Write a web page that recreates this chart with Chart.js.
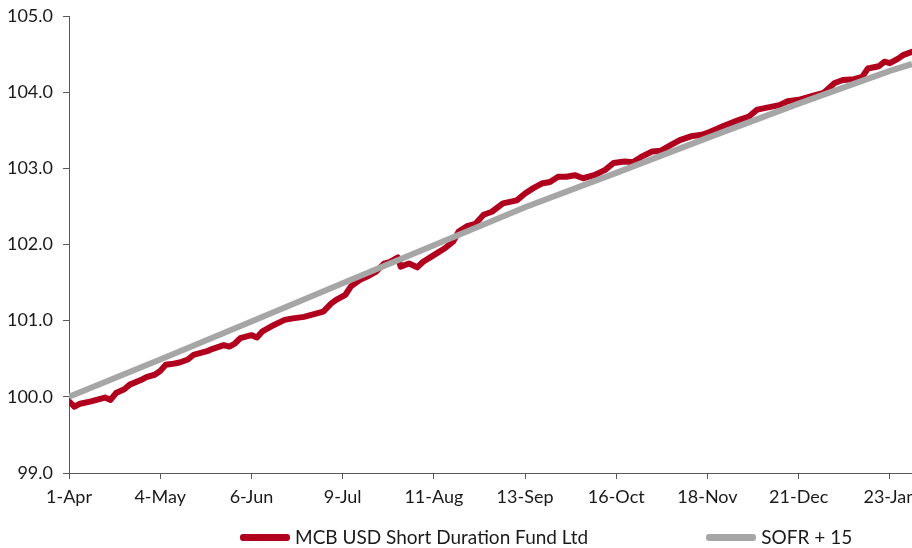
<!DOCTYPE html>
<html>
<head>
<meta charset="utf-8">
<script src="https://cdn.jsdelivr.net/npm/chart.js@4.4.1/dist/chart.umd.min.js"></script>
<style>
  html, body { margin: 0; padding: 0; background: #fff; }
  #wrap { position: relative; width: 912px; height: 548px; }
  #legend { position: absolute; left: 240px; top: 526px; display: flex; gap: 118px;
            font-family: Lato, "DejaVu Sans", sans-serif; font-size: 19px; color: #1a1a1a; }
  .item { display: flex; align-items: center; line-height: 22px; }
  .swatch { width: 50px; height: 7px; border-radius: 3px; margin-right: 5px; }
</style>
</head>
<body>
<div id="wrap">
  <canvas id="fundChart" width="912" height="548"></canvas>
  <div id="legend"></div>
</div>
<script>
// days since 1-Apr, and tick labels every 33 days
const tickDays = [0, 33, 66, 99, 132, 165, 198, 231, 264, 297];
const tickLabels = ['1-Apr', '4-May', '6-Jun', '9-Jul', '11-Aug', '13-Sep', '16-Oct', '18-Nov', '21-Dec', '23-Jan'];

// MCB USD Short Duration Fund Ltd (rebased to 100)
const fundDays = [0, 2, 4, 8, 11, 13, 15, 17, 20, 22, 26, 28, 31, 33, 35, 37, 40, 43, 45, 47, 50, 52, 56, 58, 60,
  62, 66, 68, 70, 74, 78, 81, 85, 89, 92, 95, 97, 100, 102, 105, 109, 111, 114, 116, 119, 120, 123, 126, 128,
  132, 136, 139, 141, 144, 147, 150, 153, 157, 162, 165, 168, 171, 174, 177, 180, 183, 186, 190, 194, 197, 201,
  204, 207, 211, 214, 218, 221, 225, 229, 232, 237, 242, 246, 249, 253, 257, 260, 264, 269, 273, 277, 280, 284,
  287, 289, 293, 295, 297, 300, 302, 305];
const fundValues = [99.94, 99.87, 99.91, 99.94, 99.97, 99.99, 99.96, 100.05, 100.10, 100.16, 100.22, 100.26, 100.29, 100.34, 100.42, 100.43, 100.45, 100.49, 100.55, 100.57, 100.60, 100.63, 100.68, 100.66, 100.70,
  100.77, 100.81, 100.78, 100.86, 100.94, 101.01, 101.03, 101.05, 101.09, 101.12, 101.23, 101.28, 101.34, 101.45, 101.53, 101.60, 101.64, 101.75, 101.77, 101.83, 101.71, 101.75, 101.70, 101.77,
  101.86, 101.95, 102.04, 102.17, 102.24, 102.27, 102.39, 102.43, 102.54, 102.58, 102.67, 102.74, 102.80, 102.82, 102.89, 102.89, 102.91, 102.87, 102.91, 102.98, 103.07, 103.09,
  103.08, 103.15, 103.22, 103.23, 103.31, 103.37, 103.42, 103.44, 103.48, 103.56, 103.63, 103.68, 103.77, 103.80, 103.83, 103.88, 103.90, 103.95, 103.99, 104.12, 104.16, 104.17,
  104.20, 104.31, 104.34, 104.40, 104.38, 104.44, 104.49, 104.53];

// SOFR + 15 benchmark
const sofrDays = [0, 33, 66, 99, 132, 165, 198, 231, 264, 297, 305];
const sofrValues = [100.00, 100.49, 100.99, 101.49, 101.99, 102.49, 102.94, 103.40, 103.85, 104.28, 104.37];

const seriesNames = ['MCB USD Short Duration Fund Ltd', 'SOFR + 15'];
const seriesColors = ['#B0001E', '#A6A6A6'];

const toPoints = (xs, ys) => xs.map((d, i) => ({ x: d, y: ys[i] }));

const axisColor = '#595959';
const tickFont = { family: 'Lato', size: 18 };

const ctx = document.getElementById('fundChart').getContext('2d');
const fundChart = new Chart(ctx, {
    type: 'line',
    data: {
        datasets: [
            {
                label: seriesNames[0],
                data: toPoints(fundDays, fundValues),
                borderColor: seriesColors[0],
                borderWidth: 6,
                pointRadius: 0,
                borderJoinStyle: 'round',
                borderCapStyle: 'round',
                order: 1
            },
            {
                label: seriesNames[1],
                data: toPoints(sofrDays, sofrValues),
                borderColor: seriesColors[1],
                borderWidth: 6,
                pointRadius: 0,
                borderCapStyle: 'butt',
                order: 0
            }
        ]
    },
    options: {
        responsive: false,
        animation: false,
        layout: { padding: { top: 16, right: 0, bottom: 30, left: 0 } },
        plugins: {
            legend: { display: false },
            tooltip: { enabled: false }
        },
        scales: {
            x: {
                type: 'linear',
                min: 0,
                max: 305,
                afterBuildTicks: (scale) => { scale.ticks = tickDays.map(v => ({ value: v })); },
                afterFit: (scale) => {
                    scale.height = 45;
                    // let the last label run off the edge as in the original
                    scale.paddingRight = 0;
                },
                ticks: {
                    font: tickFont,
                    color: '#1a1a1a',
                    padding: 7,
                    maxRotation: 0,
                    autoSkip: false,
                    callback: (v) => tickLabels[tickDays.indexOf(v)]
                },
                grid: { drawOnChartArea: false, drawTicks: true, tickLength: 6, color: axisColor },
                border: { color: axisColor, width: 1 }
            },
            y: {
                min: 99,
                max: 105,
                afterFit: (scale) => {
                    scale.width = 69;
                    scale.paddingTop = 0;
                },
                ticks: {
                    stepSize: 1,
                    font: tickFont,
                    color: '#1a1a1a',
                    padding: 10,
                    callback: (v) => v.toFixed(1)
                },
                grid: { drawOnChartArea: false, drawTicks: true, tickLength: 6, color: axisColor },
                border: { color: axisColor, width: 1 }
            }
        }
    }
});

// legend below the plot, built from the datasets
const legendEl = document.getElementById('legend');
fundChart.data.datasets.forEach((ds) => {
    const item = document.createElement('div');
    item.className = 'item';
    const sw = document.createElement('span');
    sw.className = 'swatch';
    sw.style.background = ds.borderColor;
    const txt = document.createElement('span');
    txt.textContent = ds.label;
    item.appendChild(sw);
    item.appendChild(txt);
    legendEl.appendChild(item);
});
</script>
</body>
</html>
